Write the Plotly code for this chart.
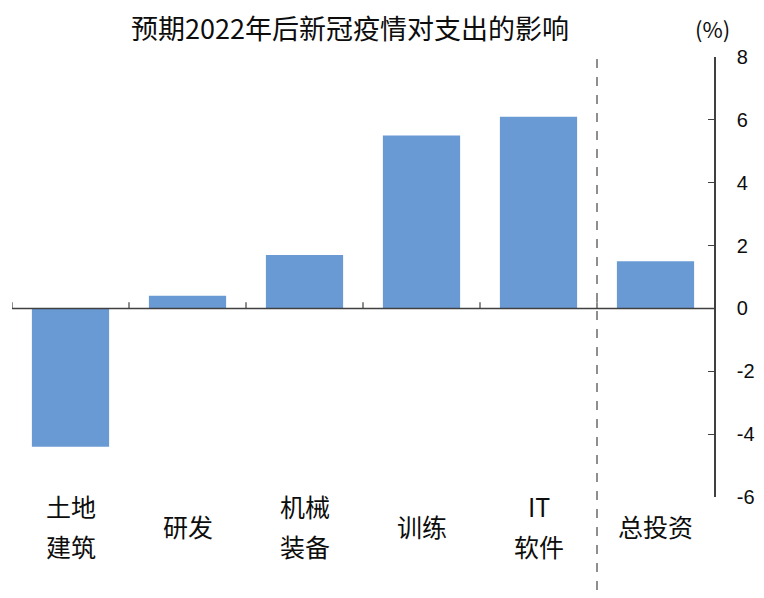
import plotly.graph_objects as go

# categories and values (%)
categories = ["土地建筑", "研发", "机械装备", "训练", "IT软件", "总投资"]
label_lines = [["土地", "建筑"], ["研发"], ["机械", "装备"], ["训练"], ["IT", "软件"], ["总投资"]]
values = [-4.4, 0.4, 1.7, 5.5, 6.1, 1.5]
y_ticks = [-6, -4, -2, 0, 2, 4, 6, 8]
y_ticktext = ["-6", "-4", "-2", "0", "2", "4", "6", "8"]

BAR_COLOR = "#6A9AD4"
AXIS_COLOR = "#404040"
TEXT_COLOR = "#0d0d0d"
CJK = "Noto Sans CJK SC"

# the page body adds an 8px offset, so the figure is smaller than the window
W, H = 756, 582
M_L, M_R, M_T, M_B = 4, 50, 49, 93
PLOT_W = W - M_L - M_R
PLOT_H = H - M_T - M_B


def paper_x(px):
    return (px - M_L) / PLOT_W


def paper_y(px_from_top):
    # convert a pixel row (figure coords) to paper y
    return 1 - (px_from_top - M_T) / PLOT_H


fig = go.Figure()
fig.add_trace(
    go.Bar(
        x=list(range(len(categories))),
        y=values,
        marker_color=BAR_COLOR,
        marker_line_width=0,
        hovertext=categories,
    )
)

# zero line with small upward ticks at category boundaries
fig.add_shape(
    type="line", xref="x", yref="y", x0=-0.5, x1=len(categories) - 0.5, y0=0, y1=0,
    line=dict(color=AXIS_COLOR, width=1.5),
)
for i in range(len(categories)):
    fig.add_shape(
        type="line", xref="x", yref="y", x0=i - 0.5, x1=i - 0.5, y0=0, y1=0.2,
        line=dict(color=AXIS_COLOR, width=1.2),
    )

# dashed separator before the total
fig.add_shape(
    type="line", xref="x", yref="paper",
    x0=len(categories) - 1.5, x1=len(categories) - 1.5,
    y0=paper_y(H), y1=paper_y(47),
    line=dict(color="#444444", width=1.2, dash="dash"),
)

# category labels, lines centred vertically under each bar
line_gap = 40
center_px = 518
for i, lines in enumerate(label_lines):
    n = len(lines)
    for j, text in enumerate(lines):
        fig.add_annotation(
            x=i, xref="x", yref="paper",
            y=paper_y(center_px + (j - (n - 1) / 2) * line_gap),
            text=text, showarrow=False, yanchor="middle",
            font=dict(family=CJK, size=25, color=TEXT_COLOR),
        )

fig.add_annotation(
    x=paper_x(342), xref="paper", y=paper_y(20), yref="paper",
    text="预期2022年后新冠疫情对支出的影响", showarrow=False,
    xanchor="center", yanchor="middle",
    font=dict(family=CJK, size=27, color=TEXT_COLOR),
)
fig.add_annotation(
    x=paper_x(704), xref="paper", y=paper_y(20), yref="paper",
    text="(%)", showarrow=False, xanchor="center", yanchor="middle",
    font=dict(family=CJK, size=22, color=TEXT_COLOR),
)

fig.update_xaxes(
    range=[-0.5, len(categories) - 0.5],
    showticklabels=False, showgrid=False, zeroline=False, showline=False,
)
fig.update_yaxes(
    side="right", range=[-6, 8], tickvals=y_ticks, ticktext=y_ticktext,
    showgrid=False, zeroline=False, automargin=False,
    showline=True, linecolor=AXIS_COLOR, linewidth=1.5,
    ticks="inside", ticklen=6, tickcolor=AXIS_COLOR, tickwidth=1.2,
    tickfont=dict(family="Liberation Sans", size=20, color=TEXT_COLOR),
    ticklabelstandoff=17,
)
fig.update_layout(
    width=W, height=H,
    margin=dict(l=M_L, r=M_R, t=M_T, b=M_B),
    plot_bgcolor="white", paper_bgcolor="white",
    bargap=0.34, showlegend=False,
)

fig.write_html("out.html")
